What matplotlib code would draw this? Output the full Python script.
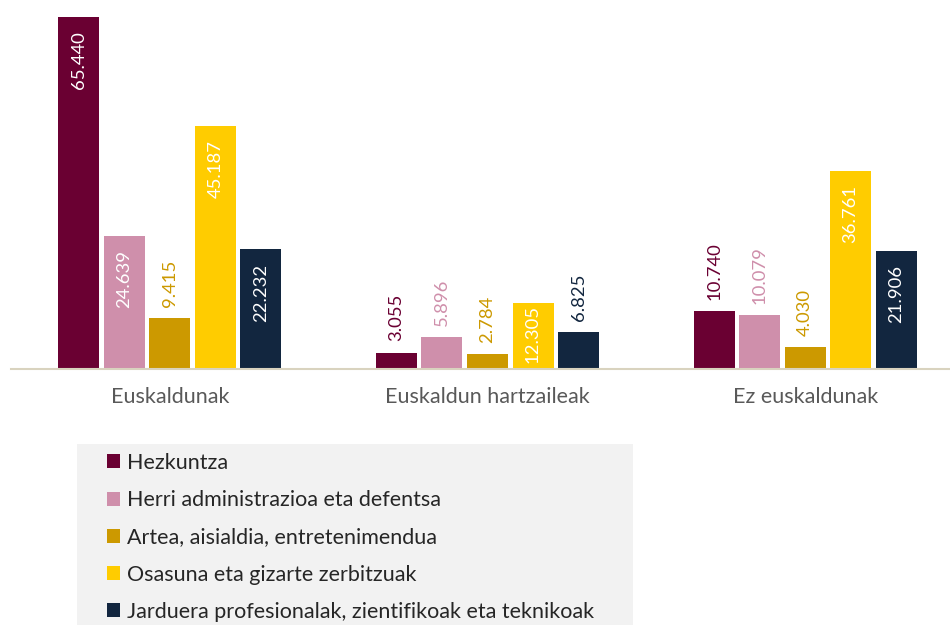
import matplotlib
matplotlib.use("Agg")
import matplotlib.pyplot as plt
from matplotlib.patches import Patch, Rectangle
import numpy as np

plt.rcParams['font.family'] = ['Lato', 'DejaVu Sans']

categories = ["Euskaldunak", "Euskaldun hartzaileak", "Ez euskaldunak"]
series_names = [
    "Hezkuntza",
    "Herri administrazioa eta defentsa",
    "Artea, aisialdia, entretenimendua",
    "Osasuna eta gizarte zerbitzuak",
    "Jarduera profesionalak, zientifikoak eta teknikoak",
]
hezkuntza = [65440, 3055, 10740]
herri_admin = [24639, 5896, 10079]
artea = [9415, 2784, 4030]
osasuna = [45187, 12305, 36761]
jarduera = [22232, 6825, 21906]
series_values = [hezkuntza, herri_admin, artea, osasuna, jarduera]
colors = ["#6A0032", "#CF8FAB", "#CC9900", "#FFCC00", "#12263F"]

W, H = 950, 625
fig = plt.figure(figsize=(W / 100, H / 100), dpi=100)
ax_left, ax_right, ax_bottom_px = 11, 964, 369
ax = fig.add_axes([ax_left / W, 1 - ax_bottom_px / H, (ax_right - ax_left) / W, ax_bottom_px / H])
ymax = 68600
ax.set_ylim(0, ymax)
ax.set_xlim(-0.5, 2.5)
px_per_unit = ax_bottom_px / ymax

x = np.arange(len(categories))
step = 0.1433
width = 0.129
fmt = lambda v: f"{v:,}".replace(",", ".")
for i, (vals, col, name) in enumerate(zip(series_values, colors, series_names)):
    xs = x + (i - 2) * step
    bars = ax.bar(xs, vals, width=width, color=col, label=name, edgecolor='none')
    for xi, v in zip(xs, vals):
        label = fmt(v)
        bar_px = v * px_per_unit
        if v > 12000:
            off = min(14, bar_px - 64)
            ax.annotate(label, (xi, v), xytext=(0, -off * 0.72), textcoords='offset points',
                        rotation=90, ha='center', va='top', color='white', fontsize=13.3)
        else:
            ax.annotate(label, (xi, v), xytext=(0, 8), textcoords='offset points',
                        rotation=90, ha='center', va='bottom', color=col, fontsize=13.3)

ax.set_xticks(x)
ax.set_xticklabels(categories, fontsize=15.5, color='#595959')
ax.tick_params(axis='x', length=0, pad=13)
ax.set_yticks([])
for s in ['top', 'left', 'right']:
    ax.spines[s].set_visible(False)
ax.spines['bottom'].set_color('#D9D3BF')
ax.spines['bottom'].set_linewidth(1.5)

fig.patches.append(Rectangle((77 / W, -0.02), (633 - 77) / W, 0.02 + 1 - 444 / H,
                             transform=fig.transFigure, facecolor='#F2F2F2', edgecolor='none', zorder=0))
handles = [Patch(facecolor=c, edgecolor='none') for c in colors]
leg = fig.legend(handles, series_names, loc='upper left', bbox_to_anchor=(107 / W, 1 - 453 / H),
                 frameon=False, fontsize=15.5, handlelength=0.62, handleheight=0.62,
                 handletextpad=0.3, labelspacing=0.8, borderaxespad=0, borderpad=0)
for t in leg.get_texts():
    t.set_color('#262626')

fig.savefig("out.png", dpi=100)
